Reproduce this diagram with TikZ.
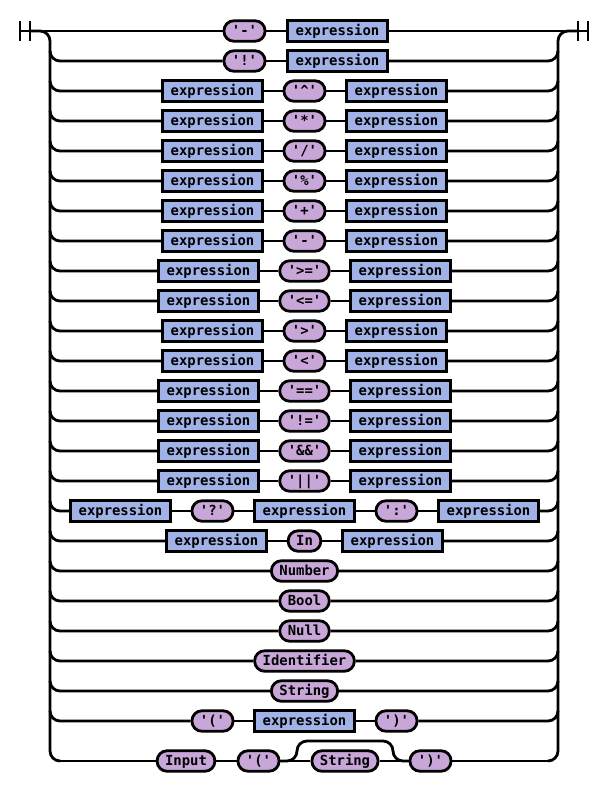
\documentclass[tikz,border=0pt]{standalone}
\usepackage{fontspec}
\setmonofont{DejaVu Sans Mono}
\definecolor{ntc}{RGB}{160,178,230}
\definecolor{tmc}{RGB}{200,166,216}
\newcommand\rrbranch[3]{%
  \draw[rounded corners=10pt] (50,#1-10) -- (50,#1) -- (#2);
  \draw[rounded corners=10pt] (#3) -- (558,#1) -- (558,#1-10);}
\newcommand\binrow[4]{%
  \node[nt] (#2l) at (304.5-#4,#1) {expression};
  \node[tm] (#2o) at (304.5,#1) {#3};
  \node[nt] (#2r) at (304.5+#4,#1) {expression};
  \draw (#2l) -- (#2o) -- (#2r);
  \rrbranch{#1}{#2l}{#2r}}
\newcommand\onerow[3]{%
  \node[tm] (#2) at (304.5,#1) {#3};
  \rrbranch{#1}{#2}{#2}}
\begin{document}
\begin{tikzpicture}[x=1pt,y=-1pt,line width=2.8pt,
  base/.style={draw=black,line width=2.8pt,
    font=\ttfamily\bfseries\fontsize{13.9}{16}\selectfont,
    inner xsep=8pt,inner ysep=0pt,minimum height=20.5pt,
    text height=11pt,text depth=2pt},
  nt/.style={base,fill=ntc},
  tm/.style={base,fill=tmc,rounded corners=10pt}]
\useasboundingbox (0,0) rectangle (609,792);
% start / end markers
\coordinate (s) at (20,31);
\coordinate (e) at (588,31);
\draw (20,21) -- (20,41);
\draw (30,21) -- (30,41);
\draw (578,21) -- (578,41);
\draw (588,21) -- (588,41);
% rails
\draw[rounded corners=10pt] (30,31) -- (50,31) -- (50,761) -- (60,761);
\draw[rounded corners=10pt] (548,761) -- (558,761) -- (558,31) -- (578,31);
% row 1
\node[tm] (a1) at (244.5,31) {'-'};
\node[nt] (b1) at (337.5,31) {expression};
\draw (s) -- (a1) -- (b1) -- (e);
% row 2
\node[tm] (a2) at (244.5,61) {'!'};
\node[nt] (b2) at (337.5,61) {expression};
\draw (a2) -- (b2);
\rrbranch{61}{a2}{b2}
% binary rows
\binrow{91}{r3}{'\textasciicircum'}{92}
\binrow{121}{r4}{'*'}{92}
\binrow{151}{r5}{'/'}{92}
\binrow{181}{r6}{'\%'}{92}
\binrow{211}{r7}{'+'}{92}
\binrow{241}{r8}{'-'}{92}
\binrow{271}{r9}{'>='}{96}
\binrow{301}{r10}{'<='}{96}
\binrow{331}{r11}{'>'}{92}
\binrow{361}{r12}{'<'}{92}
\binrow{391}{r13}{'=='}{96}
\binrow{421}{r14}{'!='}{96}
\binrow{451}{r15}{'\&\&'}{96}
\binrow{481}{r16}{'||'}{96}
% row 17 ternary
\node[nt] (t1) at (120.5,511) {expression};
\node[tm] (t2) at (212.5,511) {'?'};
\node[nt] (t3) at (304.5,511) {expression};
\node[tm] (t4) at (396.5,511) {':'};
\node[nt] (t5) at (488.5,511) {expression};
\draw (t1) -- (t2) -- (t3) -- (t4) -- (t5);
\rrbranch{511}{t1}{t5}
% row 18 In
\binrow{541}{r18}{In}{88}
% single rows
\onerow{571}{num}{Number}
\onerow{601}{bool}{Bool}
\onerow{631}{null}{Null}
\onerow{661}{ident}{Identifier}
\onerow{691}{str}{String}
% row 24 parens
\node[tm] (p1) at (212.5,721) {'('};
\node[nt] (p2) at (304.5,721) {expression};
\node[tm] (p3) at (396.5,721) {')'};
\draw (p1) -- (p2) -- (p3);
\rrbranch{721}{p1}{p3}
% row 25 Input
\coordinate (l25) at (60,761);
\coordinate (r25) at (548,761);
\node[tm] (in25) at (186,761) {Input};
\node[tm] (lp25) at (258.5,761) {'('};
\node[tm] (st25) at (345,761) {String};
\node[tm] (rp25) at (430.5,761) {')'};
\draw (l25) -- (in25) -- (lp25) -- (st25) -- (rp25) -- (r25);
\draw[rounded corners=10pt] (lp25.east) -- (297,761) -- (297,741) -- (393,741) -- (393,761) -- (rp25.west);
\end{tikzpicture}
\end{document}
